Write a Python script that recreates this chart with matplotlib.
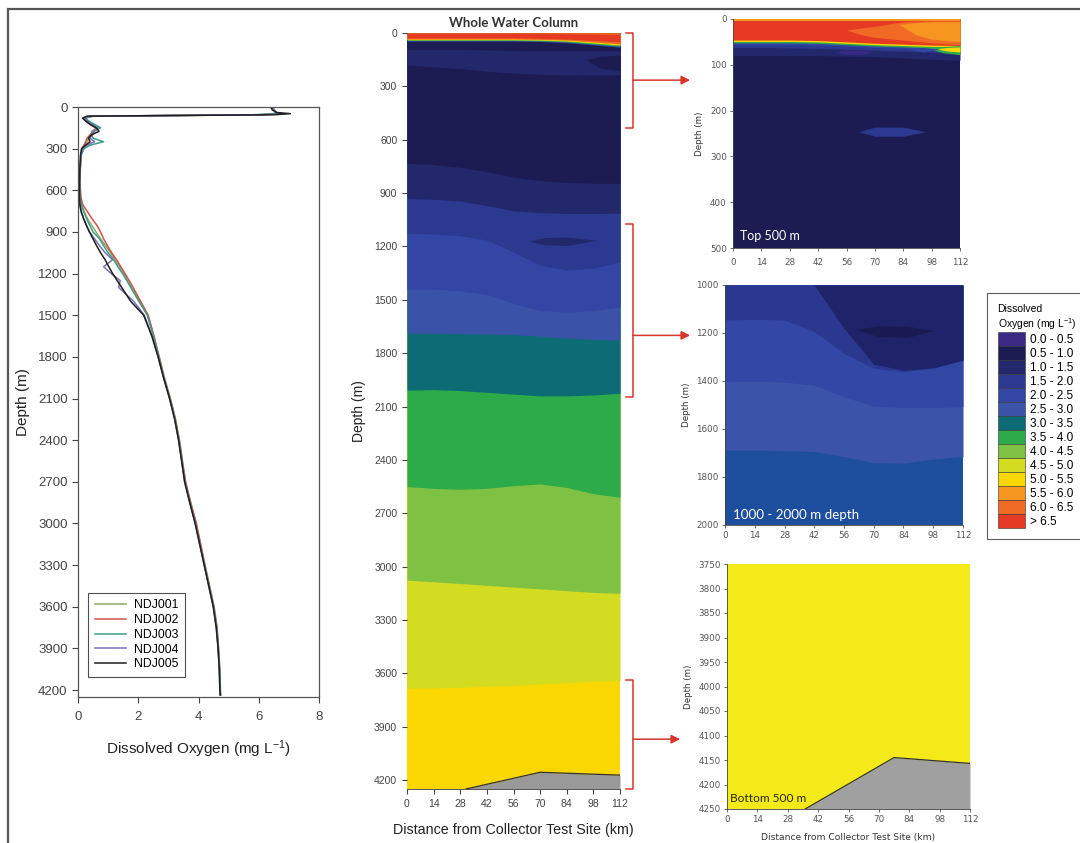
import matplotlib
matplotlib.use('Agg')
import matplotlib.pyplot as plt
import matplotlib.transforms as mtransforms
from matplotlib.patches import Patch, Rectangle

plt.rcParams['font.family'] = ['Liberation Sans', 'DejaVu Sans']
plt.rcParams['mathtext.default'] = 'regular'

# ---------------- data ----------------
prof_depth = [0, 20, 40, 48, 56, 66, 80, 100, 125, 150, 175, 200, 225, 250, 275, 300, 350, 450,
              550, 650, 700, 750, 800, 850, 900, 950, 1000, 1050, 1100, 1150, 1200, 1250, 1300,
              1400, 1500, 1650, 1800, 1950, 2100, 2250, 2400, 2550, 2700, 2850, 3000, 3150,
              3300, 3450, 3600, 3750, 3900, 4050, 4200, 4235]
ndj001 = [6.45, 6.5, 6.55, 6.6, 6.2, 0.5, 0.2, 0.3, 0.5, 0.7, 0.45, 0.5, 0.35, 0.3, 0.2, 0.15, 0.1, 0.08,
          0.06, 0.08, 0.12, 0.2, 0.3, 0.45, 0.6, 0.75, 0.92, 1.08, 1.22, 1.38, 1.52, 1.65, 1.78,
          2.05, 2.32, 2.52, 2.7, 2.87, 3.07, 3.24, 3.37, 3.47, 3.57, 3.74, 3.92, 4.07,
          4.22, 4.37, 4.52, 4.62, 4.67, 4.71, 4.73, 4.74]
ndj002 = [6.4, 6.45, 6.6, 6.8, 6.0, 0.4, 0.2, 0.25, 0.4, 0.6, 0.5, 0.4, 0.3, 0.25, 0.2, 0.12, 0.1, 0.07,
          0.06, 0.1, 0.15, 0.3, 0.45, 0.62, 0.75, 0.85, 0.98, 1.12, 1.28, 1.42, 1.56, 1.7, 1.83,
          2.08, 2.33, 2.52, 2.69, 2.86, 3.06, 3.23, 3.36, 3.46, 3.57, 3.74, 3.93, 4.07,
          4.21, 4.36, 4.51, 4.61, 4.66, 4.7, 4.72, 4.73]
ndj003 = [6.5, 6.5, 6.55, 6.5, 5.8, 0.5, 0.25, 0.35, 0.55, 0.75, 0.5, 0.45, 0.5, 0.85, 0.4, 0.2, 0.1, 0.07,
          0.05, 0.07, 0.1, 0.18, 0.28, 0.38, 0.5, 0.72, 0.85, 1.0, 1.18, 1.32, 1.48, 1.62, 1.75,
          2.02, 2.3, 2.5, 2.68, 2.85, 3.05, 3.22, 3.35, 3.45, 3.55, 3.72, 3.9, 4.05,
          4.2, 4.35, 4.5, 4.6, 4.66, 4.7, 4.72, 4.73]
ndj004 = [6.45, 6.5, 6.6, 6.7, 6.1, 0.4, 0.2, 0.3, 0.45, 0.65, 0.55, 0.45, 0.4, 0.55, 0.3, 0.15, 0.1, 0.07,
          0.05, 0.05, 0.06, 0.1, 0.18, 0.28, 0.38, 0.55, 0.72, 0.9, 1.15, 0.85, 1.1, 1.4, 1.35,
          1.85, 2.2, 2.46, 2.66, 2.84, 3.04, 3.21, 3.34, 3.44, 3.54, 3.71, 3.89, 4.04,
          4.19, 4.34, 4.49, 4.59, 4.65, 4.69, 4.71, 4.72]
ndj005 = [6.4, 6.45, 6.6, 7.05, 6.5, 0.3, 0.15, 0.25, 0.4, 0.6, 0.7, 0.45, 0.35, 0.4, 0.25, 0.12, 0.08, 0.06,
          0.05, 0.05, 0.06, 0.1, 0.18, 0.27, 0.38, 0.5, 0.62, 0.75, 0.9, 1.02, 1.15, 1.3, 1.45,
          1.75, 2.18, 2.45, 2.66, 2.84, 3.04, 3.21, 3.34, 3.44, 3.54, 3.71, 3.89, 4.04,
          4.19, 4.34, 4.49, 4.59, 4.65, 4.69, 4.71, 4.72]
series_names = ['NDJ001', 'NDJ002', 'NDJ003', 'NDJ004', 'NDJ005']
series_values = [ndj001, ndj002, ndj003, ndj004, ndj005]

stations = [0, 14, 28, 42, 56, 70, 84, 98, 112]

do_labels = ['0.0 - 0.5', '0.5 - 1.0', '1.0 - 1.5', '1.5 - 2.0', '2.0 - 2.5', '2.5 - 3.0',
             '3.0 - 3.5', '3.5 - 4.0', '4.0 - 4.5', '4.5 - 5.0', '5.0 - 5.5', '5.5 - 6.0',
             '6.0 - 6.5', '> 6.5']

# whole water column: class index of each band (top to bottom) and its lower boundary depth
wc_levels = [13, 12, 10, 7, 4, 1, 2, 1, 2, 3, 4, 5, 6, 7, 8, 9, 10]
wc_bounds = [
    [28, 28, 28, 28, 28, 30, 34, 42, 50],
    [34, 34, 34, 34, 34, 36, 40, 50, 62],
    [38, 38, 38, 38, 38, 40, 45, 56, 68],
    [42, 42, 42, 42, 42, 44, 50, 62, 74],
    [46, 46, 46, 46, 46, 48, 55, 67, 80],
    [92, 92, 93, 95, 98, 100, 100, 100, 100],
    [180, 190, 200, 215, 225, 232, 235, 237, 235],
    [733, 740, 755, 780, 810, 830, 840, 845, 845],
    [930, 935, 945, 970, 1000, 1010, 1015, 1015, 1013],
    [1127, 1130, 1140, 1164, 1232, 1305, 1333, 1322, 1288],
    [1440, 1440, 1450, 1470, 1520, 1560, 1570, 1560, 1540],
    [1687, 1688, 1690, 1692, 1695, 1705, 1715, 1722, 1727],
    [2008, 2005, 2010, 2020, 2030, 2040, 2040, 2035, 2025],
    [2550, 2560, 2565, 2560, 2545, 2535, 2555, 2590, 2610],
    [3076, 3085, 3095, 3105, 3115, 3125, 3135, 3145, 3150],
    [3684, 3682, 3678, 3672, 3668, 3660, 3652, 3645, 3640],
    [4250, 4250, 4250, 4250, 4250, 4250, 4250, 4250, 4250],
]
wc_blobs = [
    (1, [94, 102, 112], [150, 130, 125], [150, 200, 210]),
    (2, [64, 72, 84, 100], [1170, 1150, 1148, 1165], [1170, 1190, 1195, 1165]),
    (12, [70, 84, 98, 112], [0, 0, 0, 0], [0, 4, 6, 8]),
]
wc_seafloor_km = [31, 70, 112]
wc_seafloor_depth = [4250, 4156, 4172]

# top 500 m
top_levels = [11, 13, 10, 7, 4, 3, 2, 1]
top_bounds = [
    [4, 4, 4, 4, 4, 4, 4, 4, 4],
    [46, 46, 46, 47, 50, 53, 55, 57, 58],
    [49, 49, 49, 50, 53, 56, 58, 60, 61],
    [52, 52, 52, 53, 56, 59, 61, 63, 64],
    [55, 55, 56, 57, 59, 62, 64, 66, 67],
    [62, 62, 63, 64, 66, 68, 70, 72, 74],
    [80, 80, 80, 80, 81, 82, 85, 88, 90],
    [500, 500, 500, 500, 500, 500, 500, 500, 500],
]
top_blobs = [
    (12, [56, 63, 70, 84, 98, 112], [24, 20, 16, 6, 4, 4], [24, 34, 40, 46, 52, 56]),
    (11, [82, 90, 98, 112], [12, 8, 6, 6], [12, 34, 44, 50]),
    (7, [94, 104, 112], [63, 60, 58], [63, 74, 78]),
    (10, [100, 106, 112], [65, 62, 61], [65, 70, 72]),
    (4, [86, 94, 102], [66, 62, 66], [66, 72, 66]),
    (0, [50, 56, 63, 69], [72, 68, 68, 72], [72, 77, 77, 72]),
    (3, [62, 70, 84, 95], [246, 236, 236, 246], [246, 256, 256, 246]),
]

# 1000 - 2000 m
mid_bounds = [
    [1000, 1000, 1000, 1000, 1180, 1330, 1355, 1345, 1313],
    [1146, 1143, 1146, 1194, 1285, 1347, 1361, 1347, 1313],
    [1403, 1400, 1405, 1417, 1465, 1505, 1510, 1510, 1507],
    [1688, 1688, 1690, 1694, 1715, 1740, 1743, 1725, 1715],
    [2000, 2000, 2000, 2000, 2000, 2000, 2000, 2000, 2000],
]
mid_blob_km = [62, 72, 86, 98]
mid_blob_upper = [1185, 1170, 1172, 1190]
mid_blob_lower = [1185, 1215, 1218, 1190]

# bottom 500 m
bot_seafloor_km = [36, 77, 112]
bot_seafloor_depth = [4250, 4145, 4157]

bracket_ranges = [(0, 535), (1075, 2045), (3640, 4250)]
bracket_arrow_depth = [265, 1700, 3970]

# ---------------- styles ----------------
do_colors = ['#3b2a85', '#1c1c52', '#23286d', '#2b3990', '#3346a6', '#3a52a8', '#0d6b76',
             '#2dab4a', '#7fc243', '#d4dc22', '#fad700', '#f6951f', '#f06a25', '#e63a24']
line_colors = ['#8fa86a', '#d0534a', '#3a9f86', '#7a70b8', '#1e1e1e']
mid_colors = ['#1e236a', '#2a3890', '#3347a6', '#3b53a9', '#1d4f9e']
RED = '#d9352b'
NARROW = ['Liberation Sans Narrow', 'DejaVu Sans']

W, H = 1080, 843
fig = plt.figure(figsize=(W / 100, H / 100), dpi=100)


def box(l, t, r, b):
    return [l / W, 1 - b / H, (r - l) / W, (b - t) / H]


def draw_bands(ax, km, top, bounds, colors):
    # deepest first, each band filled from the top down to its lower edge
    for lower, col in reversed(list(zip(bounds, colors))):
        ax.fill_between(km, [top] * len(km), lower, color=col, lw=0)


def draw_blob(ax, km, up, lo, col):
    ax.fill_between(km, up, lo, color=col, lw=0)


def small_axes(ax):
    for s in ['top', 'right']:
        ax.spines[s].set_visible(False)
    for s in ['left', 'bottom']:
        ax.spines[s].set_color('#444')
        ax.spines[s].set_linewidth(0.6)
    ax.tick_params(direction='out', length=2.5, width=0.6, colors='#555', labelsize=6.3, pad=2)
    for lbl in ax.get_xticklabels() + ax.get_yticklabels():
        lbl.set_family(NARROW)


# frame
fig.add_artist(Rectangle((8 / W, -0.01), 1.2, 1 - 9 / H + 0.01, transform=fig.transFigure,
                         fill=False, edgecolor='#555', lw=1.6))

# ---------- panel 1: profiles ----------
ax1 = fig.add_axes(box(78, 107, 319, 697))
for name, vals, col in zip(series_names, series_values, line_colors):
    ax1.plot(vals, prof_depth, color=col, lw=1.1, label=name)
ax1.set_xlim(0, 8)
ax1.set_ylim(4250, 0)
ax1.set_xticks([0, 2, 4, 6, 8])
ax1.set_yticks(range(0, 4201, 300))
ax1.tick_params(direction='out', length=4, width=0.8, colors='#444', labelsize=9.5)
ax1.tick_params(axis='x', pad=6)
for s in ax1.spines.values():
    s.set_color('#555')
    s.set_linewidth(0.9)
ax1.set_ylabel('Depth (m)', fontsize=11, labelpad=6, color='#222')
ax1.set_xlabel('Dissolved Oxygen (mg L$^{-1}$)', fontsize=11, labelpad=11, color='#222')
leg = ax1.legend(loc='lower left', bbox_to_anchor=(0.041, 0.034), borderaxespad=0, fontsize=8.8,
                 frameon=True, fancybox=False, handlelength=2.6, labelspacing=0.22,
                 handletextpad=0.6, borderpad=0.55)
leg.get_frame().set_edgecolor('#222')
leg.get_frame().set_linewidth(0.8)

# ---------- panel 2: whole water column ----------
ax2 = fig.add_axes(box(407, 33, 620, 789))
draw_bands(ax2, stations, 0, wc_bounds, [do_colors[i] for i in wc_levels])
for lvl, km, up, lo in wc_blobs:
    draw_blob(ax2, km, up, lo, do_colors[lvl])
ax2.fill_between(wc_seafloor_km, wc_seafloor_depth, 4250, color='#999999', lw=0)
ax2.plot(wc_seafloor_km, wc_seafloor_depth, color='#333', lw=0.9)
ax2.set_xlim(0, 112)
ax2.set_ylim(4250, 0)
ax2.set_xticks(stations)
ax2.set_yticks(range(0, 4201, 300))
for s in ['top', 'right', 'left']:
    ax2.spines[s].set_visible(False)
ax2.spines['bottom'].set_color('#555')
ax2.spines['bottom'].set_linewidth(0.7)
ax2.tick_params(direction='out', length=3.5, width=0.8, colors='#444', labelsize=7.5)
ax2.set_ylabel('Depth (m)', fontsize=10, labelpad=6, color='#222')
ax2.set_xlabel('Distance from Collector Test Site (km)', fontsize=10.3, labelpad=10, color='#222')
ax2.set_title('Whole Water Column', fontsize=9.5, pad=4, color='#333', family=['Lato', 'DejaVu Sans'],
              fontweight='bold')

# brackets and arrows
trans = mtransforms.blended_transform_factory(ax2.transAxes, ax2.transData)
arrow_tips = [1.329, 1.329, 1.282]
for (d0, d1), dm, tip in zip(bracket_ranges, bracket_arrow_depth, arrow_tips):
    ax2.plot([1.028, 1.061, 1.061, 1.028], [d0, d0, d1, d1], transform=trans, color=RED,
             lw=1.1, clip_on=False)
    ax2.annotate('', xy=(tip, dm), xycoords=trans, xytext=(1.061, dm), textcoords=trans,
                 arrowprops=dict(arrowstyle='-|>', color=RED, lw=1.1, mutation_scale=13,
                                 shrinkA=0, shrinkB=0))

# ---------- panel 3: top 500 m ----------
ax3 = fig.add_axes(box(733, 19, 960, 248))
draw_bands(ax3, stations, 0, top_bounds, [do_colors[i] for i in top_levels])
for lvl, km, up, lo in top_blobs:
    draw_blob(ax3, km, up, lo, do_colors[lvl])
ax3.set_xlim(0, 112)
ax3.set_ylim(500, 0)
ax3.set_xticks(stations)
ax3.set_yticks(range(0, 501, 100))
small_axes(ax3)
ax3.tick_params(axis='x', pad=5)
ax3.set_ylabel('Depth (m)', fontsize=6.3, labelpad=4, family=NARROW, color='#333')
ax3.text(0.03, 0.025, 'Top 500 m', transform=ax3.transAxes, color='white', fontsize=9,
         family=['Lato', 'DejaVu Sans'], va='bottom', ha='left')

# ---------- panel 4: 1000-2000 m ----------
ax4 = fig.add_axes(box(725, 285, 963, 525))
draw_bands(ax4, stations, 1000, mid_bounds, mid_colors)
draw_blob(ax4, mid_blob_km, mid_blob_upper, mid_blob_lower, '#191a52')
ax4.set_xlim(0, 112)
ax4.set_ylim(2000, 1000)
ax4.set_xticks(stations)
ax4.set_yticks(range(1000, 2001, 200))
small_axes(ax4)
ax4.set_ylabel('Depth (m)', fontsize=6.3, labelpad=4, family=NARROW, color='#333')
ax4.text(0.034, 0.015, '1000 - 2000 m depth', transform=ax4.transAxes, color='white', fontsize=9.6,
         family=['Lato', 'DejaVu Sans'], va='bottom', ha='left')

# ---------- panel 5: bottom 500 m ----------
ax5 = fig.add_axes(box(727, 564, 970, 809))
ax5.fill_between([0, 112], [3750, 3750], [4250, 4250], color='#f4ea1a', lw=0)
ax5.fill_between(bot_seafloor_km, bot_seafloor_depth, 4250, color='#a0a0a0', lw=0)
ax5.plot(bot_seafloor_km, bot_seafloor_depth, color='#333', lw=0.9)
ax5.set_xlim(0, 112)
ax5.set_ylim(4250, 3750)
ax5.set_xticks(stations)
ax5.set_yticks(range(3750, 4251, 50))
small_axes(ax5)
ax5.set_ylabel('Depth (m)', fontsize=6.3, labelpad=4, family=NARROW, color='#333')
ax5.set_xlabel('Distance from Collector Test Site (km)', fontsize=6.6, labelpad=6, family=NARROW,
               color='#333')
ax5.text(0.012, 0.02, 'Bottom 500 m', transform=ax5.transAxes, color='#2a2a05', fontsize=8.6,
         family=['Lato', 'DejaVu Sans'], va='bottom', ha='left')

# ---------- colour legend ----------
handles = [Patch(facecolor=c, edgecolor='#333', linewidth=0.4) for c in do_colors]
leg2 = fig.legend(handles, do_labels, loc='upper left', bbox_to_anchor=(987 / W, 1 - 293 / H),
                  title='Dissolved\nOxygen (mg L$^{-1}$)', title_fontsize=7.5, fontsize=8.5,
                  frameon=True, fancybox=False, handlelength=2.3, handleheight=1.45,
                  labelspacing=0.0, handletextpad=0.45, borderpad=0.9, alignment='left',
                  borderaxespad=0)
leg2.get_frame().set_edgecolor('#333')
leg2.get_frame().set_linewidth(0.8)

fig.savefig('out.png', dpi=100)
